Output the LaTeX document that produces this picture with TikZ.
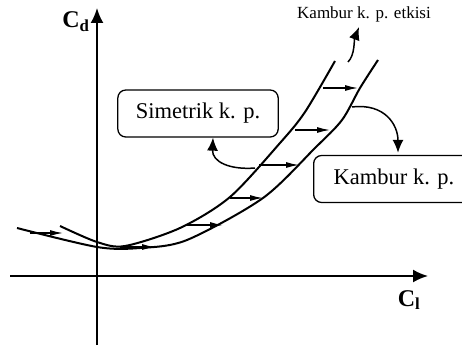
\documentclass[tikz,border=0pt]{standalone}
\usepackage{fontspec}
\setmainfont{Liberation Serif}
\usetikzlibrary{arrows.meta,positioning,calc}

\begin{document}
\begin{tikzpicture}[x=1pt,y=-1pt,>=Latex,
  axisline/.style={line width=2pt,-{Latex[length=15pt,width=13pt]}},
  polarline/.style={line width=2pt},
  drift/.style={line width=1.3pt,-{Latex[length=13pt,width=6pt]}},
  note/.style={line width=1.5pt,-{Latex[length=13pt,width=11pt]}},
  box/.style={draw,line width=1.3pt,rounded corners=8pt,inner xsep=18pt,minimum height=47pt,font=\fontsize{22.5}{24}\selectfont}]
  \useasboundingbox (0,0) rectangle (462,353);
  \clip (0,0) rectangle (462,353);
  \coordinate (ybot) at (97,345);
  \coordinate (ytop) at (97,8);
  \coordinate (xl) at (10,276);
  \coordinate (xr) at (428,276);
  \draw[axisline] (ybot) -- (ytop);
  \draw[axisline] (xl) -- (xr);
  \node[font=\bfseries\fontsize{24}{26}\selectfont] (cd) at (76,22) {C\textsubscript{d}};
  \node[font=\bfseries\fontsize{24}{26}\selectfont] (cl) at (409,300) {C\textsubscript{l}};
  \draw[polarline] plot[smooth] coordinates {(60,226) (97,242) (125,246) (180,228) (230,197) (280,143) (305,112) (335,61)};
  \draw[polarline] plot[smooth] coordinates {(17,228) (97,247) (140,248) (187,240) (263,198) (315,148) (342,120) (360,88) (378,60)};
  \foreach \xa/\xb/\yy in {323/358/88, 295/330/130, 259/299/165, 230/263/198, 187/223/225, 30/63/233, 120/155/247}
    \draw[drift] (\xa,\yy) -- (\xb,\yy);
  \node[box,minimum width=156pt] (sym) at (198,113.5) {Simetrik k. p.};
  \node[box,anchor=west,inner xsep=20pt] (kam) at (313,179) {Kambur k. p.};
  \node[font=\fontsize{17}{19}\selectfont] (etk) at (364,14) {Kambur k. p. etkisi};
  \coordinate (s1) at (255,168);
  \coordinate (s2) at (352,107);
  \coordinate (s3) at (348,62);
  \coordinate (t3) at (359,27);
  \draw[note] (s1) .. controls (230,170) and (212,162) .. ([xshift=15pt]sym.south);
  \draw[note] (s2) .. controls (385,103) and (398,125) .. ($(kam.north west)+(85,-2)$);
  \draw[note] (s3) .. controls (355,55) and (354,40) .. (t3);
\end{tikzpicture}
\end{document}
